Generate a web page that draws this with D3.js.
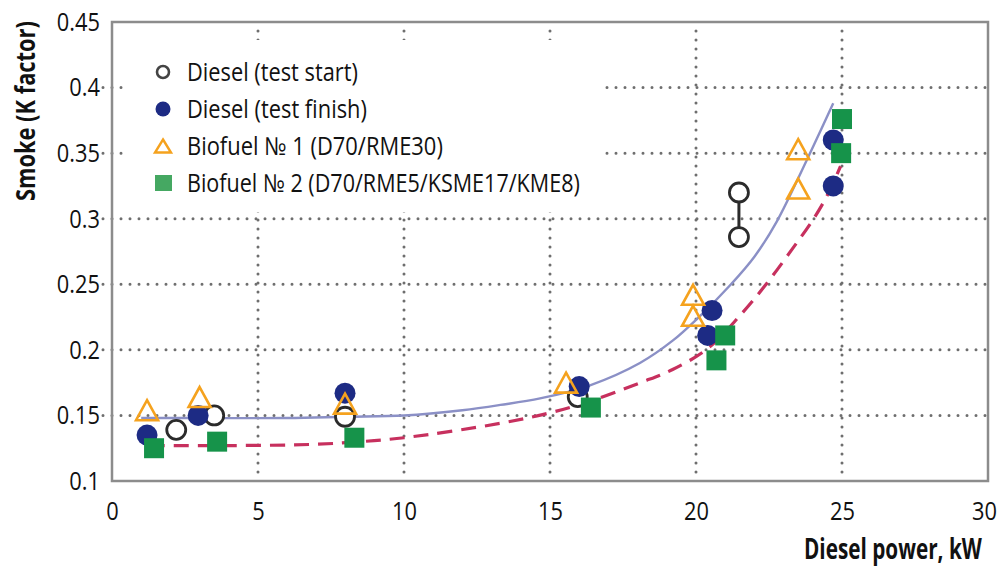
<!DOCTYPE html>
<html>
<head>
<meta charset="utf-8">
<script src="https://cdn.jsdelivr.net/npm/d3@7"></script>
<style>
  html, body { margin: 0; padding: 0; background: #fff; }
  svg { display: block; }
  text { font-family: 'Open Sans', 'DejaVu Sans', sans-serif; fill: #111; }
</style>
</head>
<body>
<svg id="chart" width="999" height="567"></svg>
<script>
// Axis ticks
const xTicks = [0, 5, 10, 15, 20, 25, 30];
const yTicks = [0.1, 0.15, 0.2, 0.25, 0.3, 0.35, 0.4, 0.45];
const yTickLabels = ["0.1", "0.15", "0.2", "0.25", "0.3", "0.35", "0.4", "0.45"];

// Measured smoke (K factor) vs diesel power (kW)
const dieselStartX  = [2.2, 3.5, 7.98, 15.95, 21.47, 21.47];
const dieselStartY  = [0.139, 0.150, 0.149, 0.164, 0.320, 0.286];
const dieselFinishX = [1.2, 2.95, 7.98, 16.0, 20.55, 20.4, 24.7, 24.7];
const dieselFinishY = [0.135, 0.150, 0.167, 0.172, 0.230, 0.211, 0.360, 0.325];
const bio1X = [1.2, 3.0, 7.98, 15.55, 19.9, 19.9, 23.5, 23.5];
const bio1Y = [0.154, 0.164, 0.159, 0.175, 0.242, 0.226, 0.353, 0.323];
const bio2X = [1.44, 3.6, 8.3, 16.4, 21.0, 20.7, 25.0, 24.97];
const bio2Y = [0.125, 0.130, 0.133, 0.156, 0.211, 0.192, 0.376, 0.350];

// Trend lines
const dieselTrendX = [1.0, 3, 6, 8, 10, 12, 13.3, 14.66, 16.37, 18.08, 19.2, 20.1, 21.2, 22.0, 22.77, 23.8, 24.7];
const dieselTrendY = [0.148, 0.148, 0.148, 0.149, 0.150, 0.154, 0.158, 0.163, 0.173, 0.190, 0.207, 0.225, 0.250, 0.271, 0.298, 0.345, 0.388];
const bioTrendX = [1.3, 4, 7, 8.5, 10, 13.3, 15, 16.4, 18.1, 19.2, 20.4, 21.5, 22.4, 23.3, 24.0, 24.5, 24.95];
const bioTrendY = [0.127, 0.127, 0.128, 0.130, 0.133, 0.144, 0.152, 0.161, 0.175, 0.185, 0.201, 0.226, 0.250, 0.277, 0.299, 0.318, 0.340];

const legendLabels = [
  "Diesel (test start)",
  "Diesel (test finish)",
  "Biofuel № 1 (D70/RME30)",
  "Biofuel № 2 (D70/RME5/KSME17/KME8)"
];
const xTitle = "Diesel power, kW";
const yTitle = "Smoke (K factor)";

const colors = {
  ring: "#2b2b2b",
  blue: "#1d2b84",
  orange: "#f5a21e",
  green: "#16934a",
  greenLegend: "#45a862",
  trendBlue: "#8b90c6",
  trendPink: "#c7305e",
  grid: "#6e6e6e",
  frame: "#8c8c8c"
};

const W = 999, H = 567;
const margin = { left: 112, right: 11, top: 22, bottom: 86 };
const condense = 0.84;   // horizontal squeeze for the condensed face look
const tickFont = 26;
const svg = d3.select("#chart");

const x = d3.scaleLinear().domain([0, 30]).range([margin.left, W - margin.right]);
const y = d3.scaleLinear().domain([0.1, 0.45]).range([H - margin.bottom, margin.top]);

const zip = (a, b) => a.map((v, i) => [v, b[i]]);

// Squeeze a left-anchored text horizontally so it spans `width` px from (x0, y0)
function fitText(sel, x0, y0, width, rotate) {
  const len = sel.node().getComputedTextLength();
  const k = Math.min(1, width / len);
  sel.attr("x", 0).attr("y", 0)
    .attr("transform", `translate(${x0},${y0})${rotate ? ` rotate(${rotate})` : ""} scale(${k},1)`);
}

// Dotted grid, extended a little past the left axis
const grid = svg.append("g");
grid.selectAll("line.h").data(yTicks.slice(1, -1)).join("line")
  .attr("x1", x(0) - 9).attr("x2", x(30))
  .attr("y1", d => y(d)).attr("y2", d => y(d))
  .attr("stroke", colors.grid).attr("stroke-width", 3)
  .attr("stroke-linecap", "round").attr("stroke-dasharray", "0,9");
grid.selectAll("line.v").data(xTicks.slice(1, -1)).join("line")
  .attr("x1", d => x(d)).attr("x2", d => x(d))
  .attr("y1", y(0.45) + 9).attr("y2", y(0.1))
  .attr("stroke", colors.grid).attr("stroke-width", 3)
  .attr("stroke-linecap", "round").attr("stroke-dasharray", "0,9");

// Plot frame
svg.append("rect")
  .attr("x", x(0)).attr("y", y(0.45))
  .attr("width", x(30) - x(0)).attr("height", y(0.1) - y(0.45))
  .attr("fill", "none").attr("stroke", colors.frame).attr("stroke-width", 2.5);

// Tick labels
const xAxis = d3.axisBottom(x).tickValues(xTicks).tickSize(0).tickPadding(21);
svg.append("g").attr("transform", `translate(0,${y(0.1)})`).call(xAxis)
  .call(g => g.select(".domain").remove())
  .selectAll("text").attr("font-size", tickFont).attr("font-family", null).attr("fill", "#111")
  .attr("x", (d, i) => (i === xTicks.length - 1 ? -4 : 0) / condense)
  .attr("transform", `scale(${condense},1)`);

const yPad = 12;
const yAxis = d3.axisLeft(y).tickValues(yTicks).tickFormat((d, i) => yTickLabels[i]).tickSize(0).tickPadding(yPad);
svg.append("g").attr("transform", `translate(${x(0)},0)`).call(yAxis)
  .call(g => g.select(".domain").remove())
  .selectAll("text").attr("font-size", tickFont).attr("font-family", null).attr("fill", "#111")
  .attr("x", -yPad / condense)
  .attr("transform", `scale(${condense},1)`);

// Axis titles
const yT = svg.append("text")
  .attr("font-size", 26).attr("font-weight", "bold")
  .text(yTitle);
fitText(yT, 35, 201, 180, -90);

const xT = svg.append("text")
  .attr("font-size", 28).attr("font-weight", "bold")
  .text(xTitle);
fitText(xT, 804, 559, 178);

// Trend curves
const line = d3.line().x(d => x(d[0])).y(d => y(d[1])).curve(d3.curveCatmullRom.alpha(0.5));
svg.append("path").datum(zip(dieselTrendX, dieselTrendY))
  .attr("d", line).attr("fill", "none")
  .attr("stroke", colors.trendBlue).attr("stroke-width", 2.4);
svg.append("path").datum(zip(bioTrendX, bioTrendY))
  .attr("d", line).attr("fill", "none")
  .attr("stroke", colors.trendPink).attr("stroke-width", 3.2)
  .attr("stroke-dasharray", "15,9");

// Markers: diesel at test start (open rings, repeated readings joined)
const startPts = zip(dieselStartX, dieselStartY);
const spans = d3.groups(startPts, d => d[0]).filter(g => g[1].length > 1);
svg.append("g").selectAll("line").data(spans).join("line")
  .attr("x1", d => x(d[0])).attr("x2", d => x(d[0]))
  .attr("y1", d => y(d3.min(d[1], p => p[1]))).attr("y2", d => y(d3.max(d[1], p => p[1])))
  .attr("stroke", colors.ring).attr("stroke-width", 3);
svg.append("g").selectAll("circle").data(startPts).join("circle")
  .attr("cx", d => x(d[0])).attr("cy", d => y(d[1])).attr("r", 9.5)
  .attr("fill", "#fff").attr("stroke", colors.ring).attr("stroke-width", 2.8);

// Diesel at test finish
svg.append("g").selectAll("circle").data(zip(dieselFinishX, dieselFinishY)).join("circle")
  .attr("cx", d => x(d[0])).attr("cy", d => y(d[1])).attr("r", 10.5)
  .attr("fill", colors.blue);

// Biofuel 1
const tri = (w, h) => `M0,${-h / 2}L${w / 2},${h / 2}L${-w / 2},${h / 2}Z`;
svg.append("g").selectAll("path").data(zip(bio1X, bio1Y)).join("path")
  .attr("transform", d => `translate(${x(d[0])},${y(d[1])})`)
  .attr("d", tri(22, 20)).attr("fill", "none")
  .attr("stroke", colors.orange).attr("stroke-width", 2.6).attr("stroke-linejoin", "miter");

// Biofuel 2
svg.append("g").selectAll("rect").data(zip(bio2X, bio2Y)).join("rect")
  .attr("x", d => x(d[0]) - 10).attr("y", d => y(d[1]) - 10)
  .attr("width", 20).attr("height", 20)
  .attr("fill", colors.green);

// Legend on a white panel
const legend = svg.append("g");
legend.append("rect").attr("x", 128).attr("y", 40).attr("width", 472).attr("height", 172).attr("fill", "#fff");
const rowY = i => 72 + i * 37;
const lx = 163;
const labelWidths = [171, 180, 256, 393];
legend.append("circle").attr("cx", lx).attr("cy", rowY(0)).attr("r", 6)
  .attr("fill", "none").attr("stroke", "#444").attr("stroke-width", 2.6);
legend.append("circle").attr("cx", lx).attr("cy", rowY(1)).attr("r", 7.5).attr("fill", colors.blue);
legend.append("path").attr("transform", `translate(${lx},${rowY(2)})`)
  .attr("d", tri(16, 13)).attr("fill", "none").attr("stroke", colors.orange).attr("stroke-width", 2.4);
legend.append("rect").attr("x", lx - 8).attr("y", rowY(3) - 8).attr("width", 17).attr("height", 16)
  .attr("fill", colors.greenLegend);
legend.selectAll("text").data(legendLabels).join("text")
  .attr("font-size", 25)
  .text(d => d)
  .each(function (d, i) { fitText(d3.select(this), 187, rowY(i) + 9, labelWidths[i]); });
</script>
</body>
</html>
